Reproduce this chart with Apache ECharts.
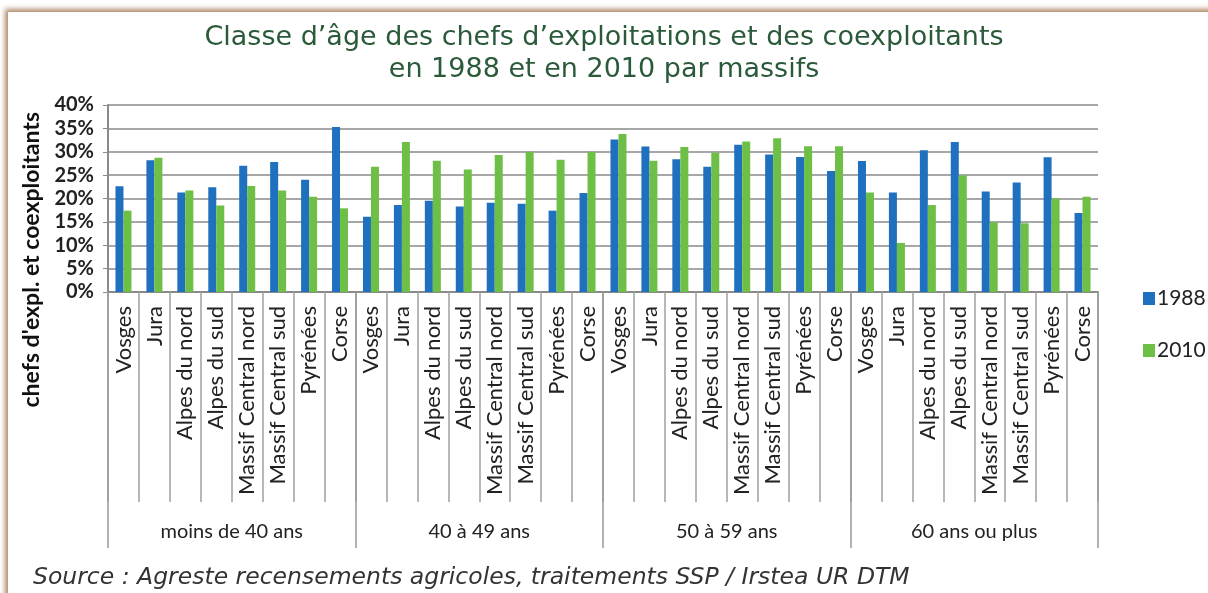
<!DOCTYPE html>
<html>
<head>
<meta charset="utf-8">
<script src="https://cdn.jsdelivr.net/npm/echarts@6/dist/echarts.min.js"></script>
<style>
  html, body { margin: 0; padding: 0; background: #fff; }
  .frame {
    position: absolute; left: 8px; top: 12px; width: 1220px; height: 600px;
    background: #fff;
    box-shadow: -3px -3px 5px #b08a68;
  }
  .bar-chart { position: absolute; left: 0; top: 0; width: 1208px; height: 593px; }
</style>
</head>
<body>
<div class="frame"></div>
<div class="bar-chart"></div>
<script>
// categories
var massifs = ['Vosges', 'Jura', 'Alpes du nord', 'Alpes du sud', 'Massif Central nord', 'Massif Central sud', 'Pyrénées', 'Corse'];
var ageGroups = ['moins de 40 ans', '40 à 49 ans', '50 à 59 ans', '60 ans ou plus'];
var yTicks = [0, 5, 10, 15, 20, 25, 30, 35, 40];

// values in % (one per massif, group after group)
var val1988 = [
  22.6, 28.2, 21.3, 22.4, 27.0, 27.8, 24.0, 35.3,
  16.1, 18.6, 19.5, 18.3, 19.1, 18.9, 17.4, 21.2,
  32.6, 31.1, 28.4, 26.8, 31.5, 29.4, 28.9, 25.9,
  28.0, 21.3, 30.3, 32.1, 21.5, 23.4, 28.8, 16.9
];
var val2010 = [
  17.4, 28.7, 21.7, 18.5, 22.7, 21.7, 20.4, 17.9,
  26.8, 32.1, 28.1, 26.2, 29.3, 30.0, 28.3, 30.0,
  33.8, 28.1, 31.0, 29.8, 32.2, 32.9, 31.2, 31.2,
  21.3, 10.5, 18.6, 24.9, 14.9, 14.7, 20.0, 20.4
];

var narrow = 'Lato, "Liberation Sans", sans-serif';
var labels = [];
ageGroups.forEach(function () { labels = labels.concat(massifs); });

var chart = echarts.init(document.querySelector('.bar-chart'));
var option = {
    animation: false,
    title: {
        text: 'Classe d\u2019âge des chefs d\u2019exploitations et des coexploitants\nen 1988 et en 2010 par massifs',
        left: 'center',
        top: 17,
        textStyle: {
            fontFamily: '"DejaVu Sans", sans-serif',
            fontSize: 27,
            fontWeight: 'normal',
            color: '#2a5a3a',
            lineHeight: 32,
            align: 'center'
        }
    },
    color: ['#1f70bf', '#6dbf45'],
    legend: {
        orient: 'vertical',
        left: 1138,
        top: 283,
        itemWidth: 12,
        itemHeight: 13,
        itemGap: 31,
        icon: 'rect',
        textStyle: { fontFamily: narrow, fontSize: 21, color: '#222', padding: [0, 0, 0, -3] },
        data: ['1988', '2010']
    },
    grid: { left: 108, right: 110, top: 105, bottom: 301 },
    xAxis: [
        {
            type: 'category',
            data: labels,
            axisLine: { show: true, lineStyle: { color: '#8a8a8a', width: 2 } },
            axisTick: { show: true, interval: 0, length: 210, lineStyle: { color: '#a0a0a0', width: 1.5 } },
            axisLabel: {
                interval: 0, rotate: 90, margin: 14,
                fontFamily: narrow, fontSize: 22, color: '#222'
            }
        },
        {
            type: 'category',
            position: 'bottom',
            data: ageGroups,
            axisLine: { show: false },
            axisTick: { show: true, interval: 0, length: 256, lineStyle: { color: '#999', width: 1.5 } },
            axisLabel: {
                interval: 0, margin: 230,
                fontFamily: narrow, fontSize: 20, color: '#222'
            }
        }
    ],
    yAxis: {
        type: 'value',
        min: yTicks[0],
        max: yTicks[yTicks.length - 1],
        interval: 5,
        axisLine: { show: true, lineStyle: { color: '#8a8a8a', width: 2 } },
        axisTick: { show: true, length: 5, lineStyle: { color: '#8a8a8a' } },
        axisLabel: {
            formatter: '{value}%', margin: 14,
            fontFamily: narrow, fontSize: 20, fontWeight: 'bold', color: '#222'
        },
        splitLine: { show: true, lineStyle: { color: '#8a8a8a', width: 1.6 } }
    },
    graphic: [
        {
            type: 'text',
            left: 20,
            top: 112,
            rotation: Math.PI / 2,
            style: {
                text: 'chefs d\'expl. et coexploitants',
                fontFamily: narrow, fontSize: 23, fontWeight: 'bold', fill: '#111'
            }
        },
        {
            type: 'text',
            left: 33,
            top: 566,
            style: {
                text: 'Source : Agreste recensements agricoles, traitements SSP / Irstea UR DTM',
                fontFamily: '"DejaVu Sans", sans-serif', fontSize: 23.5, fontStyle: 'italic', fill: '#333'
            }
        }
    ],
    series: [
        { name: '1988', type: 'bar', barWidth: 8, barGap: '0%', xAxisIndex: 0, data: val1988 },
        { name: '2010', type: 'bar', barWidth: 8, barGap: '0%', xAxisIndex: 0, data: val2010 }
    ]
};
chart.setOption(option);
</script>
</body>
</html>
